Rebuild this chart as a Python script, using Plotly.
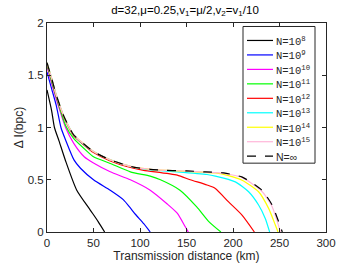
import plotly.graph_objects as go

# ---- data ----
x_N8 = [0, 5, 8, 13, 20, 32, 46.5, 55, 62]
y_N8 = [1.36, 1.16, 1.0, 0.87, 0.68, 0.40, 0.21, 0.10, 0]

x_N9 = [0, 5, 10, 15, 20, 29, 36, 50, 68, 82, 89.6, 95, 104, 111]
y_N9 = [1.53, 1.37, 1.21, 1.0, 0.88, 0.69, 0.61, 0.50, 0.40, 0.31, 0.23, 0.17, 0.08, 0]

x_N10 = [0, 5, 10, 20, 28.6, 40, 50, 68, 89.6, 111, 129, 140, 148.7, 152]
y_N10 = [1.58, 1.42, 1.27, 1.0, 0.85, 0.72, 0.66, 0.576, 0.50, 0.40, 0.27, 0.18, 0.05, 0]

x_N11 = [0, 5, 10, 20, 28.6, 43.7, 50, 68, 89.6, 111, 122, 143, 161, 174, 187]
y_N11 = [1.60, 1.44, 1.29, 1.02, 0.895, 0.767, 0.72, 0.656, 0.576, 0.535, 0.50, 0.40, 0.24, 0.10, 0]

x_N12 = [0, 5, 10, 18, 24, 28.6, 40, 50, 68, 93, 104, 140, 154, 172, 181, 195, 209.7, 223]
y_N12 = [1.61, 1.46, 1.30, 1.10, 0.99, 0.92, 0.83, 0.76, 0.68, 0.61, 0.59, 0.544, 0.50, 0.45, 0.417, 0.29, 0.162, 0]

x_N13 = [0, 5, 10, 18, 24, 28.6, 40, 50, 68, 93, 111, 140, 172, 181, 202.5, 216.8, 227.5, 234.7, 239.4]
y_N13 = [1.62, 1.47, 1.31, 1.11, 1.0, 0.93, 0.835, 0.77, 0.69, 0.62, 0.595, 0.576, 0.55, 0.535, 0.48, 0.385, 0.258, 0.13, 0]

x_N14 = [0, 5, 10, 18, 24, 28.6, 40, 50, 68, 93, 111, 129, 150, 170, 181, 195, 209.7, 227.5, 238.3, 245.5, 248.4]
y_N14 = [1.62, 1.47, 1.31, 1.11, 1.0, 0.93, 0.84, 0.77, 0.69, 0.62, 0.60, 0.59, 0.58, 0.57, 0.565, 0.54, 0.496, 0.385, 0.226, 0.067, 0]

x_N15 = [0, 5, 10, 18, 24, 28.6, 40, 50, 68, 93, 111, 129, 150, 170, 190, 210, 231, 242, 248, 251]
y_N15 = [1.62, 1.47, 1.31, 1.11, 1.0, 0.93, 0.84, 0.77, 0.69, 0.62, 0.60, 0.59, 0.582, 0.572, 0.56, 0.52, 0.39, 0.245, 0.09, 0]

x_Ninf = [0, 5, 10, 18, 24, 28.6, 40, 50, 68, 93, 111, 129, 150, 170, 190, 210, 231, 242, 249, 253]
y_Ninf = [1.62, 1.47, 1.31, 1.11, 1.0, 0.93, 0.84, 0.77, 0.69, 0.62, 0.60, 0.59, 0.585, 0.575, 0.565, 0.525, 0.40, 0.26, 0.10, 0]

names = ["N=10<sup>8</sup>", "N=10<sup>9</sup>", "N=10<sup>10</sup>", "N=10<sup>11</sup>",
         "N=10<sup>12</sup>", "N=10<sup>13</sup>", "N=10<sup>14</sup>", "N=10<sup>15</sup>", "N=∞"]
colors = ["#000000", "#0000ff", "#ff00ff", "#00ff00", "#ff0000", "#00ffff", "#ffff00", "#ffb6d9", "#000000"]
series = [(x_N8, y_N8), (x_N9, y_N9), (x_N10, y_N10), (x_N11, y_N11), (x_N12, y_N12),
          (x_N13, y_N13), (x_N14, y_N14), (x_N15, y_N15), (x_Ninf, y_Ninf)]

x_ticks = [0, 50, 100, 150, 200, 250, 300]
y_ticks = [0, 0.5, 1, 1.5, 2]

# ---- layout geometry (window pixels); the page body margin is removed below ----
W, H = 360, 270
PL, PR, PT, PB = 47, 326, 22.5, 232          # plot area in window pixels
ML, MT = PL, PT
PW, PH = PR - PL, PB - PT
MR, MB = W - ML - PW, H - MT - PH


def px2paper_x(px):
    return (px - PL) / PW


def px2paper_y(py):
    return (PB - py) / PH


fig = go.Figure()
for i, ((xs, ys), nm, c) in enumerate(zip(series, names, colors)):
    dash = "dash" if i == 8 else "solid"
    fig.add_trace(go.Scatter(x=xs, y=ys, mode="lines", name=nm, showlegend=False,
                             line=dict(color=c, width=1.2, dash=dash, shape="spline", smoothing=0.6)))

# ---- manual legend (box, line samples, labels) ----
LEG_L, LEG_R, LEG_T, LEG_B = 243, 315, 26, 163
ROW0, ROWSTEP = 40, 14.5
shapes = [dict(type="rect", xref="paper", yref="paper",
               x0=px2paper_x(LEG_L), x1=px2paper_x(LEG_R),
               y0=px2paper_y(LEG_B), y1=px2paper_y(LEG_T),
               line=dict(color="#262626", width=1), fillcolor="white", layer="above")]
annotations = []
for i, (nm, c) in enumerate(zip(names, colors)):
    yrow = ROW0 + i * ROWSTEP
    shapes.append(dict(type="line", xref="paper", yref="paper",
                       x0=px2paper_x(247), x1=px2paper_x(273),
                       y0=px2paper_y(yrow), y1=px2paper_y(yrow),
                       line=dict(color=c, width=1.2, dash="dash" if i == 8 else "solid"),
                       layer="above"))
    fam = "Liberation Sans" if i == 8 else "Liberation Mono"
    annotations.append(dict(x=px2paper_x(274), y=px2paper_y(yrow + 1), xref="paper", yref="paper",
                            text=nm, showarrow=False, xanchor="left", yanchor="middle",
                            font=dict(family=fam, size=10.5, color="#262626")))

axis_common = dict(showline=True, linecolor="#262626", linewidth=1, mirror="ticks",
                   ticks="inside", ticklen=4, tickcolor="#262626", showgrid=False, zeroline=False,
                   automargin=False,
                   tickfont=dict(family="Liberation Sans", size=11.5, color="#262626"))

fig.update_layout(
    width=W, height=H,
    margin=dict(l=ML, r=MR, t=MT, b=MB, autoexpand=False),
    paper_bgcolor="white", plot_bgcolor="white",
    title=dict(text="d=32,μ=0.25,v<sub>1</sub>=μ/2,v<sub>2</sub>=v<sub>1</sub>/10",
               x=185 / W, xanchor="center", y=1 - 10 / H, yanchor="middle",
               automargin=False,
               font=dict(family="Liberation Sans", size=11.5, color="#000000")),
    xaxis=dict(range=[0, 300], tickvals=x_ticks, title=dict(text="Transmission distance (km)",
               font=dict(family="Liberation Sans", size=12, color="#262626"), standoff=2), **axis_common),
    yaxis=dict(range=[0, 2], tickvals=y_ticks, title=dict(text="Δ I(bpc)",
               font=dict(family="Liberation Sans", size=12, color="#262626"), standoff=1), **axis_common),
    shapes=shapes,
    annotations=annotations,
    showlegend=False,
    hovermode=False,
)

fig.write_html("out.html", config={"displayModeBar": False, "staticPlot": True},
               post_script="document.body.style.margin='0';document.body.style.padding='0';")
